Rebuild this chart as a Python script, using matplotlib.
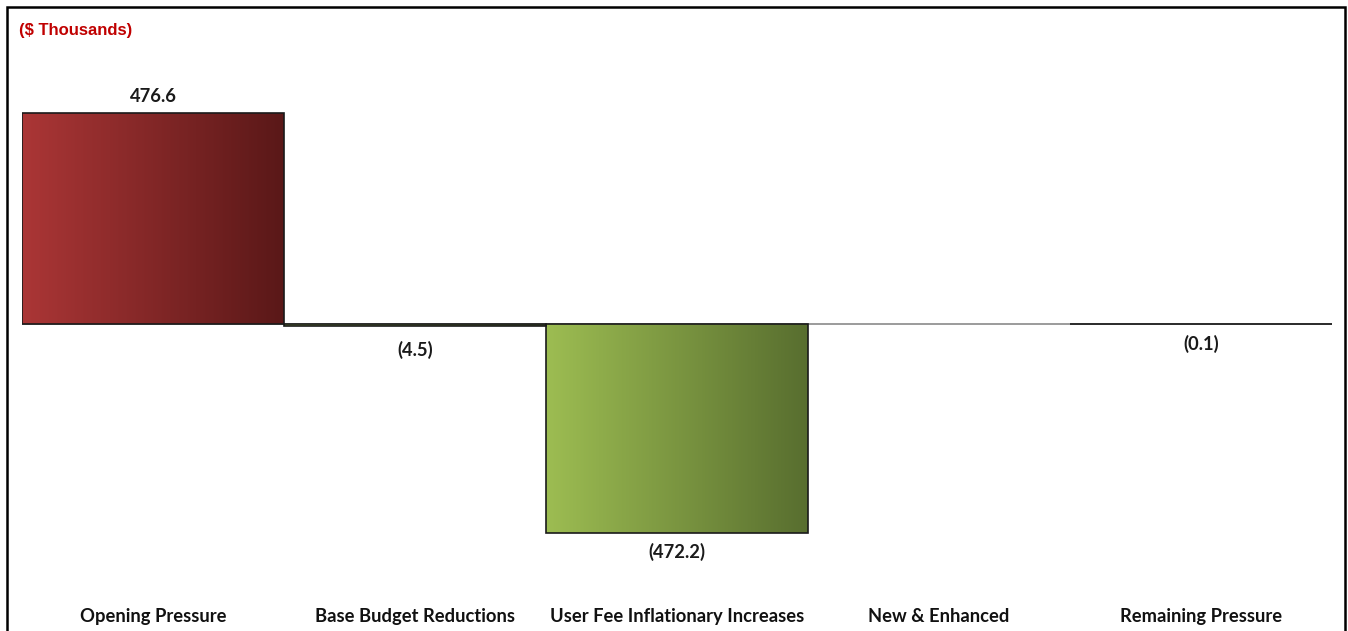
import matplotlib
matplotlib.use("Agg")
from matplotlib import pyplot as plt
from matplotlib.patches import Rectangle
from matplotlib.colors import LinearSegmentedColormap
import numpy as np

# chart data
categories = ["Opening Pressure", "Base Budget Reductions", "User Fee Inflationary Increases",
              "New & Enhanced", "Remaining Pressure"]
values = [476.6, -4.5, -472.2, 0.0, -0.1]
labels = ["476.6", "(4.5)", "(472.2)", "", "(0.1)"]

W, H = 1348, 631
fig = plt.figure(figsize=(W / 100, H / 100), dpi=100)

# axes placed in pixel terms: x 22..1332, y 50..600 (from top)
left, right, top, bottom = 22, 1332, 50, 600
ax = fig.add_axes([left / W, 1 - bottom / H, (right - left) / W, (bottom - top) / H])

# vertical scale: 211 px for 476.6
upp = 476.6 / 211.0
zero_px = 324
ax.set_ylim(-(bottom - zero_px) * upp, (zero_px - top) * upp)
ax.set_xlim(-0.5, len(categories) - 0.5)

red_cmap = LinearSegmentedColormap.from_list("r", ["#AB3636", "#5A1818"])
green_cmap = LinearSegmentedColormap.from_list("g", ["#9DBD52", "#586E2F"])

ax.axhline(0, color="#8a8a8a", lw=1.2, zorder=1)

x = np.arange(len(categories))
bars = ax.bar(x, values, width=1.0, color="none", edgecolor="#1a1a1a", lw=1.2, zorder=3)
grad = np.linspace(0, 1, 256).reshape(1, -1)
for b, v in zip(bars, values):
    if v == 0:
        b.set_edgecolor("none")
        continue
    x0, y0 = b.get_x(), b.get_y()
    w, h = b.get_width(), b.get_height()
    cmap = red_cmap if v > 0 else green_cmap
    im = ax.imshow(grad, cmap=cmap, aspect="auto", extent=[x0, x0 + w, min(y0, y0 + h), max(y0, y0 + h)],
                   zorder=2, interpolation="bilinear")
    im.set_clip_path(b)

fs = 13.2
# value labels
offsets = {"476.6": 16, "(4.5)": -24, "(472.2)": -19, "(0.1)": -20}
for xi, v, lab in zip(x, values, labels):
    if not lab:
        continue
    ax.annotate(lab, (xi, v), xytext=(0, offsets[lab]), textcoords="offset pixels", ha="center", va="center",
                fontsize=fs, fontweight="bold", family="Lato", color="#1a1a1a")

ax.set_xticks(x)
ax.set_xticklabels(categories, fontsize=fs, fontweight="bold", family="Lato", color="#111111")
ax.tick_params(axis="x", length=0, pad=6)
ax.set_yticks([])
for s in ax.spines.values():
    s.set_visible(False)

fig.text(19 / W, 1 - 30 / H, "($ Thousands)", color="#C00000", fontsize=12, fontweight="bold",
         family=["Liberation Sans", "DejaVu Sans"], ha="left", va="center")

# outer frame
fig.patches.append(Rectangle((7 / W, -0.05), (1345 - 7) / W, 1.05 - 7 / H, transform=fig.transFigure,
                             fill=False, edgecolor="black", lw=1.8))

fig.savefig("out.png", dpi=100)
